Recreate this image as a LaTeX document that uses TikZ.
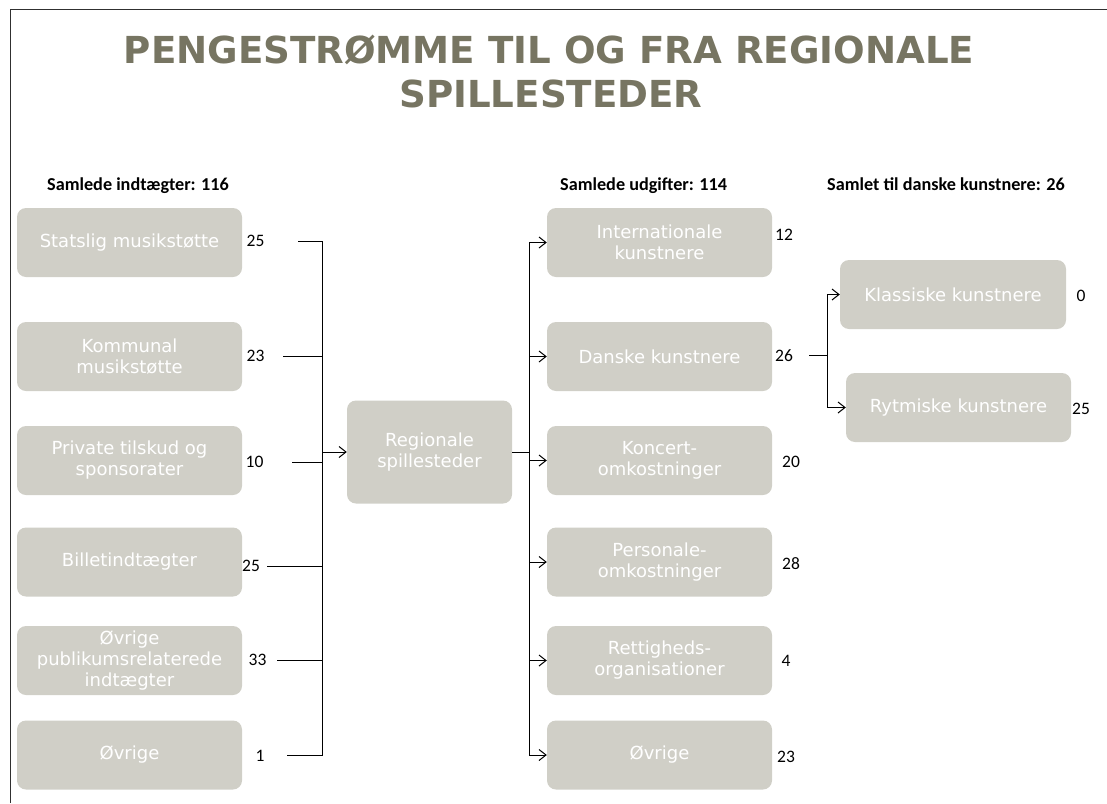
\documentclass[tikz,border=0pt]{standalone}
\usepackage{fontspec}
\usetikzlibrary{arrows.meta}
\newfontfamily\boxfont{DejaVu Sans}
\newfontfamily\ttlfont{DejaVu Sans}
\newfontfamily\calib{Carlito}
\definecolor{boxgray}{HTML}{D0CFC7}
\definecolor{titlegray}{HTML}{777562}
\definecolor{framegray}{HTML}{303030}
\tikzset{
  flowbox/.style={fill=boxgray, rounded corners=9pt, minimum width=225pt, minimum height=69pt,
    inner sep=0pt, text=white, align=center, font=\boxfont\fontsize{18}{21}\selectfont},
  numlab/.style={inner sep=0pt, font=\calib\fontsize{17.5}{19}\selectfont},
  headlab/.style={inner sep=0pt, anchor=base west, font=\calib\bfseries\fontsize{18.2}{20}\selectfont},
  ttl/.style={inner sep=0pt, anchor=base, text=titlegray, font=\ttlfont\bfseries\fontsize{37.2}{40}\selectfont},
  conn/.style={line width=1pt, black},
  arr/.style={conn, -{Straight Barb[length=7pt,width=11pt]}}
}
\begin{document}
\begin{tikzpicture}[x=1pt,y=-1pt]
\useasboundingbox (0,0) rectangle (1107,803);
\draw[framegray, line width=1pt] (10,803) -- (10,9) -- (1107,9);
% title
\node[ttl] (t1) at (549,63) {PENGESTRØMME TIL OG FRA REGIONALE};
\node[ttl] (t2) at (551,107) {SPILLESTEDER};
% headers
\node[headlab] (h1) at (47,190) {Samlede indtægter: 116};
\node[headlab] (h2) at (560,190) {Samlede udgifter: 114};
\node[headlab] (h3) at (827,190) {Samlet til danske kunstnere: 26};
% left column
\node[flowbox] (l1) at (129.5,242.5) {Statslig musikstøtte};
\node[flowbox] (l2) at (129.5,356.5) {Kommunal\\musikstøtte};
\node[flowbox] (l3) at (129.5,460.5) {Private tilskud og\\sponsorater};
\node[flowbox] (l4) at (129.5,562) {Billetindtægter};
\node[flowbox] (l5) at (129.5,660.5) {Øvrige\\publikumsrelaterede\\indtægter};
\node[flowbox] (l6) at (129.5,755) {Øvrige};
\node[numlab] (n1) at (255.5,241) {25};
\node[numlab] (n2) at (255.5,356) {23};
\node[numlab] (n3) at (254.5,462) {10};
\node[numlab] (n4) at (251,566) {25};
\node[numlab] (n5) at (257.5,660) {33};
\node[numlab] (n6) at (260,756) {1};
% center
\node[flowbox, minimum width=165pt, minimum height=103pt] (reg) at (429.5,452) {Regionale\\spillesteder};
% middle column
\node[flowbox] (m1) at (659.5,242.5) {Internationale\\kunstnere};
\node[flowbox] (m2) at (659.5,356.5) {Danske kunstnere};
\node[flowbox] (m3) at (659.5,460.5) {Koncert-\\omkostninger};
\node[flowbox] (m4) at (659.5,562) {Personale-\\omkostninger};
\node[flowbox] (m5) at (659.5,660.5) {Rettigheds-\\organisationer};
\node[flowbox] (m6) at (659.5,755) {Øvrige};
\node[numlab] (p1) at (784,235) {12};
\node[numlab] (p2) at (784,356) {26};
\node[numlab] (p3) at (791,462) {20};
\node[numlab] (p4) at (791,564) {28};
\node[numlab] (p5) at (786,661) {4};
\node[numlab] (p6) at (786,757) {23};
% right column
\node[flowbox, minimum width=226pt] (k1) at (953,294.5) {Klassiske kunstnere};
\node[flowbox] (k2) at (958.5,407.5) {Rytmiske kunstnere};
\node[numlab] (q1) at (1081,296) {0};
\node[numlab] (q2) at (1081,409) {25};
% connector coordinates
\coordinate (s1) at (298,241);
\coordinate (s2) at (283,356);
\coordinate (s3) at (292,462);
\coordinate (s4) at (267,566);
\coordinate (s5) at (277,660);
\coordinate (s6) at (287,755);
\coordinate (busL) at (322.5,452);
\coordinate (busR) at (529,452);
\coordinate (d26) at (809,355);
\coordinate (busD) at (827,355);
% left connectors
\draw[conn] (s1) -| (busL);
\draw[conn] (s6) -| (busL);
\draw[conn] (s2) -- (s2 -| busL);
\draw[conn] (s3) -- (s3 -| busL);
\draw[conn] (s4) -- (s4 -| busL);
\draw[conn] (s5) -- (s5 -| busL);
\draw[arr] (busL) -- (reg.west);
% right connectors
\draw[conn] (reg.east) -- (busR);
\foreach \m in {m1,m2,m3,m4,m5,m6} {\draw[arr] (busR) |- (\m.west);}
% danske split
\draw[conn] (d26) -- (busD);
\draw[arr] (busD) |- (k1.west);
\draw[arr] (busD) |- (k2.west);
\end{tikzpicture}
\end{document}
